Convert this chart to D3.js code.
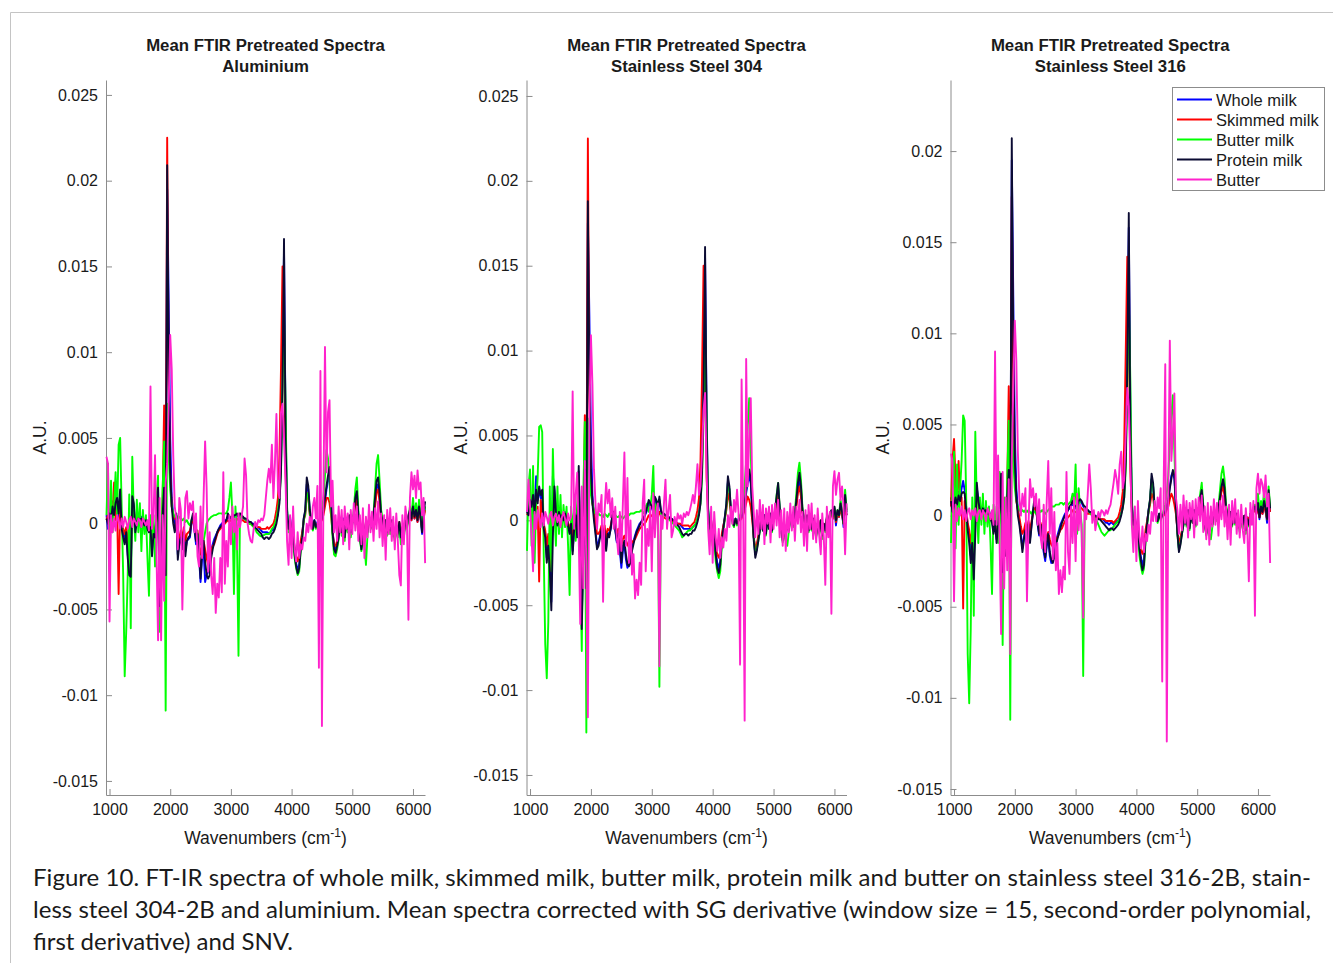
<!DOCTYPE html>
<html>
<head>
<meta charset="utf-8">
<script src="https://cdn.jsdelivr.net/npm/d3@7"></script>
<style>
  body { margin: 0; background: #fff; }
  svg { display: block; }
  text { font-family: "Liberation Sans", Arial, Helvetica, sans-serif; fill: #1a1a1a; }
  text.caption { font-family: Lato, "Open Sans", sans-serif; }
</style>
</head>
<body>
<svg id="fig" width="1333" height="963"></svg>
<script>
// sample positions (cm-1), one every 25 cm-1
const wavenumbers = d3.range(950, 6201, 25);

// all spectra below are in 10^-3 A.U.
// --- Aluminium ---
const alWhole = [
  0.5, -0.3, 0.8, 0.3, 1.3, 0.8, 1.8, 1.5, 0.3, 1.8, 0.0, -0.5, -1.0, -0.3, -1.8, -2.7, -2.8, 1.4, 1.0, -0.3,
  0.2, 0.4, 0.3, 0.4, 0.2, 0.0, 0.3, -0.2, -0.4, -0.1, -1.6, -0.4, -0.6, 0.6, 1.9, -4.3, -1.7, 0.7, 2.3, -2.5,
  19.5, 13.0, 5.0, 1.5, 0.5, 0.0, 0.5, -1.8, -1.0, -0.6, -1.2, -0.4, -1.6, -1.0, -0.9, -0.8, 0.0, 0.4, -0.4, -1.2,
  -0.8, -2.0, -3.4, -2.0, -1.5, -3.4, -3.0, -2.8, -2.2, -1.6, -1.2, -0.9, -0.7, -0.5, -0.3, -0.1, 0.0, 0.1, 0.2, 0.2,
  0.4, 0.3, 0.3, 0.3, 0.4, 0.4, 0.5, 0.4, 0.5, 0.4, 0.3, 0.3, 0.2, 0.2, 0.1, 0.1, 0.0, 0.0, -0.1, -0.2,
  -0.2, -0.3, -0.4, -0.5, -0.5, -0.5, -0.5, -0.6, -0.5, -0.4, -0.3, -0.1, 0.2, 0.6, 1.5, 3.5, 9.0, 16.0, 6.0, 0.8,
  -0.2, 0.4, -0.8, -0.3, -1.6, -2.3, -2.7, -2.4, -1.3, -0.6, 0.3, 0.7, 2.3, 2.0, 0.7, 0.2, -0.2, 0.2, -0.1, 0.1,
  0.0, 0.2, 0.3, 0.7, 1.3, 2.0, 2.5, 2.8, 1.3, -0.4, -1.3, -1.5, -1.1, -0.6, 0.2, -0.4, 0.3, -0.7, 0.2, -0.2,
  0.4, -0.4, 0.1, 0.5, 1.3, 1.6, 0.4, -0.7, -1.3, -0.6, -0.9, 0.0, -0.4, 0.2, 0.1, -0.1, 0.4, 1.2, 2.1, 2.3,
  1.5, 0.4, 0.1, -0.3, 0.1, -0.4, 0.1, -0.3, 0.1, -0.2, -0.7, -0.1, -0.5, 0.0, -0.9, -0.2, -0.5, 0.1, -0.1, 0.4,
  0.7, 0.2, 0.9, 0.3, 0.7, 0.1, 0.8, 0.3, -0.6, 0.4, 1.0
];
const alSkimmed = [
  0.2, 0.5, 0.3, 0.8, 0.5, 2.4, 0.2, 0.8, -4.1, 1.0, 0.2, -0.3, -0.6, -0.2, -1.0, -1.8, -2.2, 1.0, 0.9, -0.2,
  0.2, 0.3, 0.1, 0.2, 0.1, 0.0, 0.2, -0.3, -0.4, -0.2, -1.2, -0.5, -0.5, 0.4, 1.5, -3.5, -1.5, 1.5, 6.9, -1.0,
  22.5, 8.0, 3.0, 1.0, 0.5, 0.3, 0.2, -1.0, -0.8, -0.4, -0.8, -0.2, -1.0, -0.6, -0.5, -0.4, 0.0, 0.3, -0.2, -0.6,
  -0.4, -1.2, -1.8, -1.3, -1.0, -1.5, -2.0, -2.4, -2.1, -1.6, -1.3, -1.2, -0.9, -0.6, -0.4, -0.3, -0.2, -0.1, 0.0, 0.1,
  0.2, 0.1, 0.2, 0.1, 0.2, 0.2, 0.3, 0.2, 0.3, 0.2, 0.2, 0.1, 0.1, 0.1, 0.0, 0.0, -0.1, -0.1, -0.1, -0.2,
  -0.2, -0.2, -0.3, -0.3, -0.3, -0.3, -0.2, -0.3, -0.2, -0.1, 0.0, 0.3, 0.8, 1.5, 4.0, 9.0, 15.0, 12.0, 3.0, 0.3,
  -0.3, 0.2, -0.8, -0.5, -1.5, -1.9, -2.2, -1.8, -1.0, -0.5, 0.2, 0.5, 1.8, 1.5, 0.5, 0.1, -0.2, 0.1, -0.1, 0.0,
  0.0, 0.1, 0.2, 0.5, 1.0, 1.5, 1.5, 1.2, 0.5, -0.5, -1.2, -1.3, -1.0, -0.5, 0.2, -0.3, 0.2, -0.6, 0.2, -0.2,
  0.3, -0.3, 0.1, 0.4, 1.1, 1.4, 0.3, -0.6, -1.2, -0.5, -0.8, 0.1, -0.3, 0.2, 0.0, -0.1, 0.3, 1.0, 1.8, 2.0,
  1.3, 0.3, 0.1, -0.2, 0.1, -0.3, 0.1, -0.2, 0.1, -0.2, -0.6, -0.1, -0.4, 0.1, -0.6, -0.2, -0.4, 0.1, -0.1, 0.3,
  0.6, 0.2, 0.8, 0.3, 0.6, 0.1, 0.7, 0.3, -0.3, 0.3, 0.8
];
const alButtermilk = [
  0.5, 3.5, -2.8, 2.5, -0.5, 1.0, 3.0, 0.5, 4.6, 5.0, 1.0, -3.0, -8.9, -6.3, -3.0, 1.7, -6.1, 3.9, 0.5, -1.0,
  1.4, -0.5, 1.2, -1.6, 0.8, -0.6, 0.5, -2.0, -4.2, 0.5, -1.0, 0.5, -2.5, 1.5, 2.8, -6.3, -2.0, 2.0, 4.8, -10.9,
  7.0, 4.0, 2.0, 1.0, 0.6, 0.4, 0.5, 0.3, 0.4, 0.3, 0.2, 0.3, 0.1, 0.2, 0.0, -0.1, 0.2, 0.3, 0.1, -0.3,
  -0.6, -1.0, -1.2, -0.9, -1.0, -0.5, 0.0, 0.2, 0.3, 0.4, 0.45, 0.5, 0.5, 0.55, 0.6, 0.6, 0.6, 0.5, 0.6, 0.6,
  0.8, 1.5, 2.4, 0.5, -4.1, 1.0, -1.0, -7.7, 0.6, 0.3, 0.4, 0.3, 0.2, 0.1, 0.0, 0.0, -0.1, -0.2, -0.3, -0.5,
  -0.6, -0.7, -0.75, -0.7, -0.65, -0.6, -0.6, -0.6, -0.5, -0.3, -0.2, 0.0, 0.3, 0.8, 1.5, 3.0, 8.0, 12.5, 7.0, 1.0,
  -0.5, 0.0, -1.2, -0.8, -2.0, -2.6, -3.0, -2.8, -1.6, -0.9, 0.2, 0.6, 1.8, 1.6, 0.6, 0.0, -0.4, 0.1, -0.3, 0.0,
  0.2, 0.4, 0.8, 1.5, 2.8, 4.3, 3.8, 2.5, 0.8, -0.8, -1.8, -1.9, -1.5, -0.9, 0.2, -0.7, 0.1, -1.0, 0.2, -0.5,
  0.3, -0.8, 0.0, 0.8, 2.0, 2.7, 0.8, -0.9, -1.6, -0.9, -1.2, -2.4, -0.7, 0.2, 0.0, -0.3, 0.6, 2.0, 3.5, 4.0,
  2.5, 0.8, 0.3, -0.4, 0.2, -0.7, -0.1, -0.6, 0.1, -0.5, -1.0, -0.4, -0.8, 0.0, -1.2, -0.4, -0.8, 0.1, -0.3, 0.3,
  1.0, 0.4, 1.5, 0.5, 1.2, 0.3, 1.4, 0.6, -0.4, 0.5, 1.0
];
const alProtein = [
  0.3, 0.0, 0.6, 0.2, 1.0, 0.5, 1.2, 1.5, 0.6, 2.0, -0.3, -0.8, -1.2, -0.5, -2.0, -3.0, -3.1, 1.6, 1.2, -0.5,
  0.1, 0.3, 0.2, 0.3, 0.1, -0.1, 0.2, -0.3, -0.5, -0.2, -1.9, -0.6, -0.8, 0.5, 2.1, -4.8, -2.0, 0.5, 2.1, -3.0,
  20.9, 9.0, 3.0, 1.0, 0.0, -0.5, 0.6, -2.1, -1.2, -0.8, -1.5, -0.5, -1.9, -1.0, -0.8, -0.7, 0.2, 0.6, -0.3, -1.0,
  -0.6, -1.5, -3.2, -1.6, -1.0, -2.2, -3.0, -3.2, -3.0, -2.0, -1.5, -1.1, -0.8, -0.5, -0.3, -0.2, -0.1, 0.0, 0.1, 0.2,
  0.6, 0.3, 0.4, 0.3, 0.5, 0.5, 0.6, 0.4, 0.6, 0.5, 0.4, 0.3, 0.3, 0.2, 0.1, 0.1, 0.0, -0.1, -0.2, -0.3,
  -0.4, -0.5, -0.6, -0.8, -0.9, -0.8, -0.8, -0.9, -0.8, -0.6, -0.5, -0.3, 0.0, 0.5, 1.2, 3.0, 8.0, 16.6, 5.0, 0.6,
  -0.3, 0.3, -1.0, -0.5, -1.8, -2.5, -2.9, -2.6, -1.5, -0.8, 0.3, 0.8, 2.7, 2.2, 0.8, 0.2, -0.3, 0.2, -0.2, 0.0,
  -0.1, 0.1, 0.3, 0.8, 1.5, 2.2, 2.8, 3.3, 1.5, -0.5, -1.5, -1.7, -1.3, -0.8, 0.3, -0.5, 0.2, -0.8, 0.3, -0.3,
  0.5, -0.5, 0.0, 0.5, 1.5, 1.9, 0.5, -0.8, -1.5, -0.7, -1.0, 0.1, -0.5, 0.3, 0.1, -0.2, 0.5, 1.5, 2.5, 2.7,
  1.8, 0.5, 0.2, -0.3, 0.2, -0.5, 0.0, -0.4, 0.2, -0.3, -0.8, -0.2, -0.6, 0.1, -0.8, -0.3, -0.6, 0.2, -0.2, 0.5,
  0.8, 0.3, 1.0, 0.4, 0.8, 0.2, 1.0, 0.4, -0.5, 0.5, 1.3
];
const alButter = [
  3.9, 3.5, -5.7, 0.5, -0.5, 0.3, -0.4, 0.5, 0.2, -0.3, 0.3, -0.2, 0.4, 0.1, -0.3, 0.2, 0.4, -0.2, 0.3, 0.1,
  -0.1, 0.3, 0.2, -0.2, 0.3, 0.1, -0.1, 0.2, -0.4, 8.0, -0.3, 0.4, 4.0, -2.0, -6.8, 1.5, -6.8, 0.5, -4.5, 2.4,
  3.5, 7.0, 11.0, 9.0, 4.0, 1.0, 0.3, -1.5, 1.5, 0.8, -5.0, -1.0, 1.5, 1.9, 0.3, 1.2, 0.8, 1.3, -0.5, 0.6,
  -1.9, -2.5, 1.0, -2.0, 1.5, 4.8, 2.1, -2.8, -0.5, -3.0, -4.1, -2.0, -5.2, -3.5, -4.3, -2.0, -4.0, 3.0, -3.5, -1.0,
  -2.5, 0.5, -1.2, 1.0, -0.5, 0.3, -1.5, 0.6, -0.2, 0.4, 1.0, 3.8, 2.8, 0.0, -0.6, -1.0, -1.1, -0.3, 0.1, -0.2,
  0.2, 0.1, 0.3, 0.2, 0.5, 1.5, 2.5, 3.2, 2.4, 4.6, 1.5, 3.5, 6.4, 2.0, 1.5, 6.5, 7.0, 5.0, 2.5, -1.0,
  -2.4, 0.5, -2.0, 1.0, -1.5, -2.2, -0.5, -2.0, -1.2, -1.5, -0.8, -1.0, 0.0, -0.5, 0.4, -0.3, 1.0, 1.5, 0.3, 2.2,
  -8.4, 8.9, -11.8, 2.0, 10.3, 3.0, 6.5, 7.2, 1.0, 2.5, -0.5, 0.5, -1.0, 1.0, -0.5, 0.8, -1.2, 1.0, -0.3, 0.6,
  -1.5, 0.8, -0.6, 1.2, -0.4, 1.0, -1.0, 0.5, -1.2, 0.9, -2.0, 0.4, -0.8, 1.1, -0.5, 0.7, -1.0, 0.9, -0.3, 1.3,
  -0.8, 0.6, -1.3, 0.5, -2.1, 0.8, -0.6, 0.9, -1.0, 0.4, -1.5, 0.6, -1.0, -3.0, -3.6, 0.5, -1.2, 1.0, 0.2, -5.6,
  1.5, 3.0, 2.0, 2.8, 1.5, 3.1, 2.0, 2.4, 0.5, 1.5, -2.3
];

// --- Stainless steel 304 ---
const ss304Whole = [
  0.6, 0.4, 1.4, 0.9, 1.6, 0.6, 2.6, 1.2, 1.8, 1.3, 1.6, -0.3, -0.8, -2.2, -1.2, -2.6, -4.8, 2.6, 1.8, 0.6,
  -0.2, 0.6, 0.3, 0.4, 0.1, 0.5, 0.2, -0.2, -0.7, -0.1, -1.8, -0.4, 0.4, -0.8, 2.9, -1.3, -5.8, -1.8, 2.7, -3.5,
  17.5, 12.0, 5.0, 1.5, 0.4, -0.6, -1.5, -1.3, -0.9, -0.4, -1.3, -0.5, -1.6, -0.7, -0.9, -0.5, 0.2, 0.4, -0.6, -1.3,
  -1.0, -1.8, -2.8, -1.8, -1.4, -2.3, -2.8, -2.6, -2.3, -1.6, -1.2, -0.9, -0.6, -0.4, -0.2, -0.1, 0.1, 0.2, 0.4, 0.6,
  1.0, 0.8, 0.7, 0.5, 1.2, 1.0, 0.7, 1.2, 0.5, 0.4, 0.3, 0.3, 0.2, 0.2, 0.1, 0.1, 0.0, 0.0, -0.1, -0.2,
  -0.2, -0.3, -0.4, -0.5, -0.5, -0.5, -0.5, -0.5, -0.5, -0.4, -0.3, -0.2, 0.1, 0.5, 1.3, 3.3, 8.5, 15.5, 6.5, 0.7,
  -0.4, 0.0, -1.0, -0.6, -1.8, -2.5, -2.8, -2.4, -1.0, -0.4, 0.2, 0.9, 2.3, 1.8, 0.5, 0.1, -0.2, 0.1, -0.1, 0.1,
  0.1, 0.3, 0.4, 0.9, 1.6, 2.2, 2.6, 2.2, 0.5, -1.0, -2.0, -1.6, -1.0, -0.5, 0.2, -0.5, 0.3, -0.7, 0.2, -0.4,
  0.3, -0.5, 0.1, 0.5, 1.2, 1.9, 0.7, -0.5, -1.1, -0.5, -0.9, 0.0, -0.5, 0.2, 0.0, -0.2, 0.3, 1.0, 1.9, 2.4,
  1.7, 0.5, 0.1, -0.3, 0.2, -0.5, -0.1, -0.4, 0.1, -0.3, -0.8, -0.2, -0.6, 0.0, -1.0, -0.2, -0.5, 0.1, -0.2, 0.3,
  0.5, 0.1, 0.7, -0.3, 0.5, 0.2, 0.8, 0.4, -0.4, 1.2, 0.3
];
const ss304Skimmed = [
  0.3, 0.5, 0.8, 1.0, 0.4, 1.2, 0.5, 0.8, -3.6, 1.2, 0.6, -0.2, -0.6, -1.5, -0.8, -1.8, -3.0, 1.2, 1.2, 0.3,
  -0.1, 0.4, 0.2, 0.3, 0.1, 0.3, 0.1, -0.2, -0.5, -0.1, -1.2, -0.3, 0.3, -0.5, 2.0, -1.0, -4.0, -1.0, 6.2, -1.5,
  22.5, 7.0, 2.5, 1.0, 0.5, 0.0, -0.8, -0.8, -0.6, -0.3, -0.9, -0.3, -1.0, -0.5, -0.6, -0.3, 0.1, 0.3, -0.3, -0.8,
  -0.5, -1.0, -1.5, -1.1, -0.9, -1.2, -1.4, -1.6, -1.5, -1.3, -1.2, -1.1, -0.9, -0.7, -0.5, -0.4, -0.3, -0.2, -0.1, 0.1,
  0.3, 0.2, 0.3, 0.2, 0.5, 0.4, 0.3, 0.5, 0.2, 0.2, 0.2, 0.1, 0.1, 0.1, 0.0, 0.0, -0.1, -0.1, -0.1, -0.2,
  -0.2, -0.2, -0.3, -0.3, -0.3, -0.3, -0.3, -0.4, -0.3, -0.2, -0.1, 0.2, 0.6, 1.3, 3.5, 8.5, 15.0, 11.0, 2.5, 0.2,
  -0.4, 0.0, -0.9, -0.6, -1.6, -2.0, -2.2, -1.8, -0.8, -0.3, 0.1, 0.6, 1.6, 1.2, 0.4, 0.0, -0.2, 0.0, -0.1, 0.0,
  0.0, 0.1, 0.3, 0.6, 1.0, 1.4, 1.2, 0.8, 0.0, -1.0, -1.6, -1.4, -0.9, -0.4, 0.1, -0.4, 0.2, -0.6, 0.1, -0.3,
  0.2, -0.4, 0.1, 0.4, 1.0, 1.5, 0.5, -0.4, -1.0, -0.4, -0.8, 0.0, -0.4, 0.1, 0.0, -0.2, 0.3, 0.8, 1.6, 2.0,
  1.4, 0.4, 0.1, -0.3, 0.2, -0.4, -0.1, -0.3, 0.1, -0.3, -0.7, -0.2, -0.5, 0.0, -0.7, -0.2, -0.4, 0.1, -0.2, 0.3,
  0.4, 0.1, 0.6, -0.1, 0.4, 0.2, 0.7, 0.3, -0.2, 0.9, 0.3
];
const ss304Buttermilk = [
  -1.8, 2.0, 3.0, -1.5, 3.2, -2.5, 1.0, 2.5, 5.5, 5.6, 5.2, -2.0, -7.3, -9.3, -6.0, 2.0, -3.0, 4.2, 0.5, -1.5,
  2.0, -0.8, 1.5, -1.0, 0.9, -0.4, 0.8, -1.5, -4.4, 0.8, -0.5, 0.6, -1.2, 1.0, 2.5, -2.5, -7.7, 1.5, 5.8, -12.5,
  6.0, 3.0, 1.5, 1.0, 0.5, 0.4, 0.3, 0.4, 0.3, 0.3, 0.2, 0.4, 0.3, 0.2, 0.4, 0.3, 0.2, 0.3, 0.3, 0.2,
  0.2, 0.3, 0.2, 0.1, 0.2, 0.3, 0.4, 0.3, 0.4, 0.4, 0.4, 0.45, 0.5, 0.5, 0.5, 0.6, 0.5, 0.4, 0.8, 1.0,
  0.5, 0.8, 1.5, 3.2, -0.5, 1.0, 0.8, -9.8, 0.4, 0.3, 0.3, 0.3, 0.2, 0.1, 0.0, -0.1, -0.2, -0.3, -0.4, -0.5,
  -0.6, -0.8, -1.0, -0.9, -0.8, -0.7, -0.6, -0.6, -0.5, -0.4, -0.3, -0.2, 0.1, 0.4, 1.0, 2.5, 6.0, 12.0, 6.0, 0.8,
  -0.8, -0.5, -1.5, -1.2, -2.4, -3.0, -3.4, -3.0, -1.5, -0.6, 0.1, 0.8, 2.2, 1.8, 0.5, -0.2, -0.4, 0.1, -0.3, 0.0,
  0.3, 0.5, 1.2, 2.0, 3.5, 5.5, 7.2, 4.0, 1.0, -1.0, -2.0, -1.7, -1.2, -0.6, 0.1, -0.6, 0.2, -0.9, 0.1, -0.5,
  0.3, -0.7, 0.0, 0.5, 1.5, 2.2, 0.8, -0.6, -1.3, -0.8, -1.2, -1.5, -0.7, 0.1, 0.0, -0.4, 0.5, 1.6, 2.8, 3.4,
  2.4, 0.7, 0.2, -0.5, 0.2, -0.7, -0.2, -0.6, 0.0, -0.5, -1.0, -0.3, -0.8, -0.1, -1.1, -0.3, -0.7, 0.1, -0.4, 0.3,
  0.5, 0.2, 0.8, 0.0, 0.6, 0.3, 1.2, 0.6, -0.2, 1.8, 0.6
];
const ss304Protein = [
  0.5, 0.3, 1.2, 0.8, 1.5, 0.4, 1.8, 1.0, 2.0, 1.5, 1.8, -0.5, -1.0, -2.5, -1.5, -3.0, -5.3, -1.0, 2.0, 0.5,
  -0.3, 0.5, 0.2, 0.3, 0.0, 0.4, 0.1, -0.3, -0.8, -0.2, -2.0, -0.5, 0.3, -1.0, 3.2, -1.5, -6.4, -2.0, 3.0, -4.0,
  18.8, 8.0, 3.0, 1.0, 0.0, -0.8, -1.7, -1.5, -1.0, -0.5, -1.5, -0.6, -1.8, -0.8, -1.0, -0.5, 0.3, 0.5, -0.5, -1.2,
  -0.8, -1.5, -2.5, -1.5, -1.2, -2.0, -2.6, -2.7, -2.5, -1.8, -1.4, -1.0, -0.7, -0.5, -0.3, -0.1, 0.0, 0.2, 0.5, 0.8,
  1.2, 1.0, 0.8, 0.6, 1.4, 1.2, 0.8, 1.4, 0.6, 0.4, 0.4, 0.3, 0.3, 0.2, 0.1, 0.1, 0.0, -0.1, -0.2, -0.3,
  -0.4, -0.6, -0.8, -0.9, -0.8, -0.8, -0.9, -0.8, -0.8, -0.6, -0.6, -0.4, -0.1, 0.3, 1.0, 2.8, 7.5, 16.1, 5.5, 0.5,
  -0.5, -0.2, -1.2, -0.8, -2.0, -2.8, -3.1, -2.6, -1.2, -0.5, 0.2, 1.0, 2.6, 2.0, 0.6, 0.0, -0.3, 0.1, -0.2, 0.0,
  0.1, 0.2, 0.4, 1.0, 1.8, 2.5, 3.0, 2.4, 0.5, -1.2, -2.2, -1.8, -1.2, -0.6, 0.2, -0.6, 0.3, -0.8, 0.2, -0.5,
  0.4, -0.6, 0.1, 0.6, 1.4, 2.2, 0.8, -0.5, -1.2, -0.6, -1.0, 0.0, -0.6, 0.2, 0.0, -0.3, 0.4, 1.2, 2.2, 2.8,
  2.0, 0.6, 0.1, -0.4, 0.3, -0.6, -0.1, -0.5, 0.1, -0.4, -0.9, -0.3, -0.7, 0.0, -0.9, -0.2, -0.6, 0.2, -0.3, 0.4,
  0.6, 0.2, 0.8, 0.0, 0.6, 0.3, 1.0, 0.5, -0.2, 1.5, 0.5
];
const ss304Butter = [
  0.5, 2.4, 0.8, -1.0, -3.0, 0.5, -0.5, 0.6, 0.2, -0.4, 0.4, -0.3, 0.5, 0.2, -0.2, 0.3, 0.5, -0.3, 0.2, 0.4,
  -0.1, 0.3, -0.4, 0.2, 0.5, 0.1, -0.3, 0.4, 0.0, 0.2, 7.6, -0.5, 1.5, 2.8, -1.0, -6.1, 2.0, -4.0, 3.5, -3.0,
  -11.6, 6.0, 10.9, 8.0, 3.0, 1.0, -0.5, 1.0, 0.5, 1.5, -4.8, 0.5, 2.2, 1.0, 1.8, 0.2, 1.3, -0.5, 0.8, -1.0,
  -2.0, 0.5, -1.8, 1.0, 4.0, -1.5, 2.5, -2.5, 0.0, -3.2, -2.0, -4.6, -3.5, -4.4, -2.5, -3.8, 1.0, 2.4, -3.0, -0.5,
  -1.5, 0.8, -3.0, 1.6, -1.0, 0.5, 1.0, -8.6, 0.3, -0.5, 1.0, 2.4, -0.5, 0.6, 1.5, -1.0, -0.6, 0.2, -0.3, 0.4,
  0.1, 0.3, -0.2, 0.4, 0.2, 0.5, 0.3, 0.6, 1.0, 1.5, 1.0, 2.0, 3.3, 1.5, 2.0, 4.0, 6.5, 7.5, 3.0, -0.5,
  -2.0, 0.8, -2.5, 0.5, -1.0, -1.8, -0.5, -2.2, -1.0, -1.6, -0.5, -1.2, 0.3, -0.4, 0.8, -0.2, 1.2, 0.5, 1.8, 0.4,
  -8.5, 8.3, 1.0, -11.8, 9.5, 2.0, 5.0, 7.2, 2.0, 0.5, -1.0, 0.6, -0.8, 1.2, -0.5, 0.9, -1.4, 0.7, -0.2, 0.8,
  -1.3, 0.9, -0.5, 1.0, -0.3, 1.2, -1.0, 0.6, -1.5, 0.7, -1.8, 0.5, -0.7, 1.0, -0.6, 0.8, -1.2, 0.8, -0.2, 1.2,
  -0.7, 0.5, -1.5, 0.6, -1.8, 0.9, -0.5, 1.0, -1.1, 0.3, -1.3, 0.7, -0.9, -2.0, 0.4, -1.0, -3.8, 0.8, -1.0, 0.5,
  -5.5, 2.0, 2.9, 1.5, 2.4, 2.8, 1.2, 2.0, 0.8, -2.0, 1.0
];

// --- Stainless steel 316 ---
const ss316Whole = [
  1.0, 0.3, 0.6, 1.2, 0.8, 1.3, 1.0, 1.5, 1.9, 1.4, 0.5, -0.6, -1.2, -2.2, -1.2, -3.0, 1.9, 1.5, 0.9, 0.4,
  0.2, 0.5, 0.3, 0.4, 0.2, 0.3, -0.1, -0.3, -0.8, -0.2, -1.3, -0.4, 0.4, 2.0, -2.8, -0.8, -1.9, 1.2, 2.7, -1.7,
  19.5, 12.0, 4.5, 1.5, 0.4, -0.3, -1.0, -1.8, -1.2, -0.7, -1.6, -0.4, -1.3, -0.5, 0.2, 0.8, 0.4, -0.5, -1.1, -0.6,
  -1.4, -2.0, -2.5, -1.7, -1.2, -2.2, -2.6, -2.5, -2.1, -1.5, -1.1, -0.8, -0.5, -0.3, -0.1, 0.1, 0.2, 0.3, 0.4, 0.5,
  0.7, 0.5, 0.4, 0.4, 0.7, 0.8, 0.7, 0.5, 0.4, 0.3, 0.3, 0.2, 0.2, 0.1, 0.0, 0.0, -0.1, -0.1, -0.2, -0.2,
  -0.2, -0.3, -0.4, -0.4, -0.5, -0.4, -0.4, -0.5, -0.4, -0.3, -0.3, -0.1, 0.2, 0.6, 1.4, 3.5, 9.0, 15.8, 6.0, 0.7,
  -0.4, 0.0, -0.8, -0.5, -1.6, -2.3, -2.7, -2.4, -1.1, -0.4, 0.3, 0.8, 2.0, 1.6, 0.4, 0.0, -0.2, 0.1, -0.1, 0.1,
  0.1, 0.3, 0.5, 0.9, 1.6, 2.2, 2.4, 2.0, 0.4, -0.9, -1.8, -1.4, -0.9, -0.4, 0.2, -0.4, 0.3, -0.6, 0.2, -0.3,
  0.3, -0.4, 0.1, 0.4, 1.0, 1.3, 0.5, -0.4, -0.9, -0.5, -0.7, 0.0, -0.4, 0.2, 0.0, -0.1, 0.3, 0.9, 1.5, 1.8,
  1.3, 0.3, 0.1, -0.2, 0.2, -0.4, 0.0, -0.3, 0.1, -0.2, -0.6, -0.1, -0.4, 0.0, -0.7, -0.1, -0.4, 0.1, -0.1, 0.2,
  0.4, 0.1, 0.6, -0.2, 0.4, 0.1, 0.7, 0.3, -0.4, 1.0, 0.2
];
const ss316Skimmed = [
  0.5, 3.0, 4.2, 2.0, 0.5, 3.0, 0.8, 1.0, -5.1, 0.8, 0.4, -0.4, -0.8, -1.5, -0.8, -2.0, 0.8, 1.0, 0.6, 0.2,
  0.1, 0.3, 0.2, 0.3, 0.1, 0.2, -0.1, -0.3, -0.6, -0.2, -1.0, -0.3, 0.3, 1.5, -2.0, -0.6, -1.2, 1.5, 7.1, -1.2,
  17.5, 7.0, 2.5, 0.8, 0.3, -0.1, -0.6, -1.0, -0.8, -0.4, -1.0, -0.3, -0.8, -0.3, 0.1, 0.5, 0.3, -0.3, -0.7, -0.4,
  -0.8, -1.1, -1.4, -1.1, -0.9, -1.3, -1.6, -1.7, -1.6, -1.4, -1.2, -1.0, -0.8, -0.7, -0.5, -0.3, -0.2, -0.1, 0.0, 0.1,
  0.3, 0.2, 0.2, 0.2, 0.4, 0.5, 0.4, 0.3, 0.2, 0.2, 0.1, 0.1, 0.1, 0.0, 0.0, -0.1, -0.1, -0.1, -0.2, -0.2,
  -0.2, -0.2, -0.3, -0.3, -0.3, -0.3, -0.3, -0.4, -0.3, -0.2, -0.1, 0.2, 0.6, 1.3, 4.0, 9.0, 14.2, 11.0, 2.5, 0.2,
  -0.4, -0.1, -0.8, -0.5, -1.4, -1.9, -2.1, -1.8, -0.8, -0.3, 0.2, 0.6, 1.2, 1.0, 0.3, 0.0, -0.2, 0.0, -0.1, 0.0,
  0.0, 0.1, 0.3, 0.5, 0.9, 1.2, 1.0, 0.6, 0.1, -0.8, -1.5, -1.2, -0.8, -0.3, 0.1, -0.3, 0.2, -0.5, 0.1, -0.3,
  0.2, -0.3, 0.0, 0.3, 0.8, 1.1, 0.4, -0.4, -0.8, -0.4, -0.6, 0.0, -0.4, 0.1, 0.0, -0.1, 0.3, 0.8, 1.3, 1.6,
  1.1, 0.3, 0.1, -0.2, 0.1, -0.3, 0.0, -0.3, 0.1, -0.2, -0.5, -0.1, -0.4, 0.0, -0.6, -0.1, -0.3, 0.1, -0.1, 0.2,
  0.3, 0.1, 0.5, -0.1, 0.3, 0.1, 0.6, 0.2, -0.2, 0.8, 0.2
];
const ss316Buttermilk = [
  -1.5, 1.5, 3.5, -1.8, 2.8, -0.5, 1.5, 3.0, 5.5, 5.2, 1.0, -7.6, -10.3, -6.2, 1.0, -5.5, 4.6, 0.5, -1.5, 1.0,
  -0.5, 1.2, -1.0, 0.8, -0.6, 0.5, -1.5, -4.3, 0.6, -0.8, 0.5, -1.5, 2.4, -0.5, -7.1, 1.0, -2.0, 2.0, 5.2, -11.2,
  5.5, 3.0, 1.5, 0.8, 0.5, 0.3, 0.2, 0.3, 0.2, 0.3, 0.2, 0.3, 0.2, 0.1, 0.3, 0.2, 0.1, 0.2, 0.3, 0.2,
  0.3, 0.2, 0.1, 0.2, 0.3, 0.4, 0.5, 0.5, 0.5, 0.6, 0.6, 0.6, 0.7, 0.7, 0.6, 0.7, 0.7, 0.6, 0.7, 0.8,
  1.2, 0.5, 2.8, -1.0, 1.5, 0.3, -0.5, -8.8, 0.5, 0.3, 0.3, 0.2, 0.1, 0.0, -0.1, -0.2, -0.3, -0.5, -0.7, -0.9,
  -1.0, -1.1, -1.0, -0.9, -0.8, -0.8, -0.7, -0.6, -0.5, -0.4, -0.3, -0.2, 0.1, 0.4, 1.0, 2.5, 7.0, 12.0, 7.5, 1.0,
  -0.8, -0.5, -1.3, -1.0, -2.2, -2.8, -3.2, -2.9, -1.5, -0.6, 0.2, 0.9, 2.0, 1.6, 0.4, -0.1, -0.4, 0.1, -0.3, 0.0,
  0.3, 0.6, 1.2, 2.2, 4.0, 5.5, 6.6, 3.5, 0.8, -1.0, -1.9, -1.5, -1.0, -0.5, 0.1, -0.6, 0.2, -0.8, 0.1, -0.4,
  0.2, -0.6, 0.0, 0.4, 1.2, 1.8, 0.6, -0.5, -1.1, -0.7, -1.0, -1.3, -0.6, 0.1, 0.0, -0.3, 0.5, 1.4, 2.3, 2.7,
  2.0, 0.6, 0.2, -0.4, 0.2, -0.6, -0.1, -0.5, 0.0, -0.4, -0.9, -0.3, -0.7, -0.1, -1.0, -0.3, -0.6, 0.1, -0.3, 0.3,
  0.6, 0.3, 1.2, 0.2, 0.8, 0.4, 1.3, 0.5, -0.2, 1.6, 0.5
];
const ss316Protein = [
  0.8, 0.2, 0.5, 1.0, 0.6, 1.1, 0.8, 1.2, 1.3, 1.2, 0.3, -0.8, -1.5, -2.6, -1.5, -3.5, -1.0, 1.8, 0.8, 0.3,
  0.1, 0.4, 0.2, 0.3, 0.1, 0.2, -0.2, -0.4, -1.0, -0.3, -1.5, -0.5, 0.3, 2.3, -3.1, -1.0, -2.2, 1.0, 2.5, -2.0,
  20.7, 9.0, 3.0, 1.0, 0.0, -0.5, -1.2, -2.0, -1.3, -0.8, -1.8, -0.5, -1.5, -0.6, 0.3, 1.0, 0.5, -0.4, -1.0, -0.5,
  -1.2, -1.8, -2.3, -1.5, -1.0, -2.0, -2.4, -2.6, -2.3, -1.7, -1.3, -1.0, -0.7, -0.4, -0.2, 0.0, 0.1, 0.3, 0.5, 0.6,
  0.8, 0.6, 0.5, 0.5, 0.8, 0.9, 0.8, 0.6, 0.5, 0.4, 0.3, 0.2, 0.2, 0.1, 0.0, 0.0, -0.1, -0.2, -0.2, -0.3,
  -0.4, -0.5, -0.6, -0.7, -0.8, -0.7, -0.7, -0.8, -0.7, -0.6, -0.5, -0.3, 0.0, 0.4, 1.0, 3.0, 8.0, 16.6, 5.0, 0.5,
  -0.5, -0.2, -1.0, -0.6, -1.8, -2.5, -3.0, -2.7, -1.3, -0.5, 0.3, 0.9, 2.3, 1.8, 0.5, 0.0, -0.3, 0.1, -0.2, 0.0,
  0.1, 0.2, 0.4, 0.8, 1.5, 2.0, 2.5, 2.2, 0.5, -1.0, -2.0, -1.6, -1.0, -0.5, 0.2, -0.5, 0.3, -0.7, 0.2, -0.4,
  0.3, -0.5, 0.0, 0.4, 1.0, 1.4, 0.5, -0.5, -1.0, -0.5, -0.8, 0.0, -0.5, 0.2, 0.0, -0.2, 0.4, 1.0, 1.6, 2.0,
  1.5, 0.4, 0.1, -0.3, 0.2, -0.5, 0.0, -0.4, 0.1, -0.3, -0.7, -0.2, -0.5, 0.0, -0.8, -0.2, -0.5, 0.1, -0.2, 0.3,
  0.5, 0.2, 0.7, -0.1, 0.5, 0.2, 0.8, 0.4, -0.2, 1.4, 0.4
];
const ss316Butter = [
  3.4, 3.0, -4.7, 0.6, -0.3, 0.4, 0.0, 0.5, -0.2, 0.3, -0.3, 0.2, 0.4, -0.2, 0.3, 0.0, 0.4, -0.3, 0.2, 0.3,
  -0.2, 0.3, 0.1, -0.3, 0.4, 0.2, -0.2, 0.3, -0.5, 9.0, -0.5, 3.3, -1.5, -6.5, 2.4, -4.0, 1.0, -3.0, 2.0, -7.6,
  3.0, 7.0, 10.7, 8.5, 3.5, 1.0, 0.0, 1.2, 0.5, 1.5, -4.7, -0.5, 2.0, 1.0, 1.5, 0.5, 1.2, -0.5, 0.9, -1.2,
  -1.8, 0.6, -2.0, 0.8, 3.0, -1.0, 1.5, -2.4, 0.2, -3.0, -1.5, -4.3, -3.0, -4.2, -2.8, -3.5, 2.4, -2.0, -3.2, 0.5,
  -1.5, 1.0, -2.5, 1.2, -0.8, 0.6, -1.0, -5.6, 0.4, -0.2, 1.2, 2.8, 1.5, -0.4, 0.3, -0.8, -0.2, 0.2, -0.1, 0.3,
  0.2, 0.0, 0.3, 0.1, 0.4, 0.6, 1.2, 1.8, 2.5, 2.0, 1.2, 2.8, 3.5, 1.5, 2.0, 4.5, 7.0, 6.0, 3.0, -0.5,
  -2.0, 0.5, -2.5, 0.8, -1.2, -1.8, -0.6, -2.0, -1.0, -1.4, -0.5, -1.0, 0.2, -0.3, 0.8, -0.3, 1.0, 0.4, 1.5, -9.1,
  2.0, 8.3, -12.4, 1.5, 9.6, 3.0, 4.5, 6.7, 1.0, 0.3, -1.0, 0.6, -0.8, 1.1, -0.4, 0.8, -1.2, 0.7, -0.2, 0.8,
  -1.2, 0.9, -0.5, 1.0, -0.3, 1.1, -0.9, 0.5, -1.3, 0.7, -1.6, 0.5, -0.6, 0.9, -0.5, 0.7, -1.1, 0.8, -0.2, 1.1,
  -0.6, 0.5, -1.3, 0.6, -1.6, 0.8, -0.4, 0.9, -1.0, 0.3, -1.2, 0.6, -0.8, -1.5, 0.4, -0.8, -3.6, 0.7, -0.5, 0.8,
  -5.5, 1.5, 2.3, 1.2, 2.0, 1.7, 1.0, 2.2, 0.5, 1.2, -2.6
];

const seriesNames = ["Whole milk", "Skimmed milk", "Butter milk", "Protein milk", "Butter"];
const seriesColors = ["#0000ff", "#ff0000", "#00ff00", "#0b0b33", "#ff22cc"];
const titleTop = "Mean FTIR Pretreated Spectra";
const panelNames = ["Aluminium", "Stainless Steel 304", "Stainless Steel 316"];
const panelSpectra = [
  [alWhole, alSkimmed, alButtermilk, alProtein, alButter],
  [ss304Whole, ss304Skimmed, ss304Buttermilk, ss304Protein, ss304Butter],
  [ss316Whole, ss316Skimmed, ss316Buttermilk, ss316Protein, ss316Butter]
];
const xTicks = [1000, 2000, 3000, 4000, 5000, 6000];
const yTicksAl = [-15, -10, -5, 0, 5, 10, 15, 20, 25];
const yTicks304 = [-15, -10, -5, 0, 5, 10, 15, 20, 25];
const yTicks316 = [-15, -10, -5, 0, 5, 10, 15, 20];
const captionLines = [
  "Figure 10. FT-IR spectra of whole milk, skimmed milk, butter milk, protein milk and butter on stainless steel 316-2B, stain-",
  "less steel 304-2B and aluminium. Mean spectra corrected with SG derivative (window size = 15, second-order polynomial,",
  "first derivative) and SNV."
];

panelSpectra.flat().forEach((s, k) => {
  if (s.length !== wavenumbers.length) throw new Error("series " + k + " has " + s.length + " values");
});

// layout of the three axes
const layout = [
  { left: 106, right: 425, yDomain: [-15.82, 25.87], ticks: yTicksAl, labelX: 46 },
  { left: 526.5, right: 846.5, yDomain: [-16.18, 25.94], ticks: yTicks304, labelX: 467 },
  { left: 950.5, right: 1270, yDomain: [-15.33, 23.9], ticks: yTicks316, labelX: 889 }
];
const axTop = 80, axBottom = 795;
const axisColor = "#8c8c8c";
const fmt = d => String(d / 1000);

const svg = d3.select("#fig");

// figure frame
svg.append("path")
  .attr("d", "M10.5,963 V12.5 H1333")
  .attr("fill", "none")
  .attr("stroke", "#c4c4c4");

layout.forEach((p, pi) => {
  const x = d3.scaleLinear().domain([942, 6198]).range([p.left, p.right]);
  const y = d3.scaleLinear().domain(p.yDomain).range([axBottom, axTop]);
  const g = svg.append("g");

  const yAxis = g.append("g")
    .attr("transform", `translate(${p.left},0)`)
    .call(d3.axisLeft(y).tickValues(p.ticks).tickFormat(fmt)
      .tickSizeInner(-6).tickSizeOuter(0).tickPadding(8));
  const xAxis = g.append("g")
    .attr("transform", `translate(0,${axBottom})`)
    .call(d3.axisBottom(x).tickValues(xTicks).tickFormat(d3.format("d"))
      .tickSizeInner(-6).tickSizeOuter(0).tickPadding(9));

  [yAxis, xAxis].forEach(a => {
    a.attr("font-size", 16).attr("font-family", null);
    a.select(".domain").attr("stroke", axisColor);
    a.selectAll(".tick line").attr("stroke", axisColor);
    a.selectAll(".tick text").attr("fill", "#1a1a1a");
  });

  // spectra
  const line = d3.line()
    .x((d, i) => x(wavenumbers[i]))
    .y(d => y(d));
  panelSpectra[pi].forEach((s, si) => {
    g.append("path")
      .datum(s)
      .attr("fill", "none")
      .attr("stroke", seriesColors[si])
      .attr("stroke-width", 1.9)
      .attr("stroke-linejoin", "round")
      .attr("d", line);
  });

  // titles
  const cx = (p.left + p.right) / 2;
  g.append("text").attr("x", cx).attr("y", 51)
    .attr("text-anchor", "middle").attr("font-weight", "bold").attr("font-size", 16.8)
    .text(titleTop);
  g.append("text").attr("x", cx).attr("y", 72)
    .attr("text-anchor", "middle").attr("font-weight", "bold").attr("font-size", 16.8)
    .text(panelNames[pi]);

  // axis labels
  const xl = g.append("text").attr("x", cx).attr("y", 844)
    .attr("text-anchor", "middle").attr("font-size", 17.5);
  xl.append("tspan").text("Wavenumbers (cm");
  xl.append("tspan").attr("font-size", 12).attr("dy", -7).text("-1");
  xl.append("tspan").attr("dy", 7).text(")");

  g.append("text")
    .attr("transform", `translate(${p.labelX},${(axTop + axBottom) / 2}) rotate(-90)`)
    .attr("text-anchor", "middle").attr("font-size", 17.5)
    .text("A.U.");
});

// legend
const legend = svg.append("g");
legend.append("rect")
  .attr("x", 1172.5).attr("y", 87.5).attr("width", 152).attr("height", 103)
  .attr("fill", "#fff").attr("stroke", axisColor);
seriesNames.forEach((name, i) => {
  const ly = 99.5 + i * 20;
  legend.append("line")
    .attr("x1", 1177).attr("x2", 1212).attr("y1", ly).attr("y2", ly)
    .attr("stroke", seriesColors[i]).attr("stroke-width", 1.9);
  legend.append("text")
    .attr("x", 1216).attr("y", ly + 6)
    .attr("font-size", 16.5)
    .text(name);
});

// caption
const cap = svg.append("g");
const capTexts = captionLines.map((t, i) =>
  cap.append("text")
    .attr("class", "caption")
    .attr("x", 33).attr("y", 886 + i * 32)
    .attr("font-size", 22)
    .text(t));
const natural = capTexts[2].node().getComputedTextLength();
const capSize = 22 * 260 / natural;
capTexts.forEach((t, i) => {
  t.attr("font-size", capSize.toFixed(2));
  if (i < 2) t.attr("textLength", 1278).attr("lengthAdjust", "spacing");
});
</script>
</body>
</html>
